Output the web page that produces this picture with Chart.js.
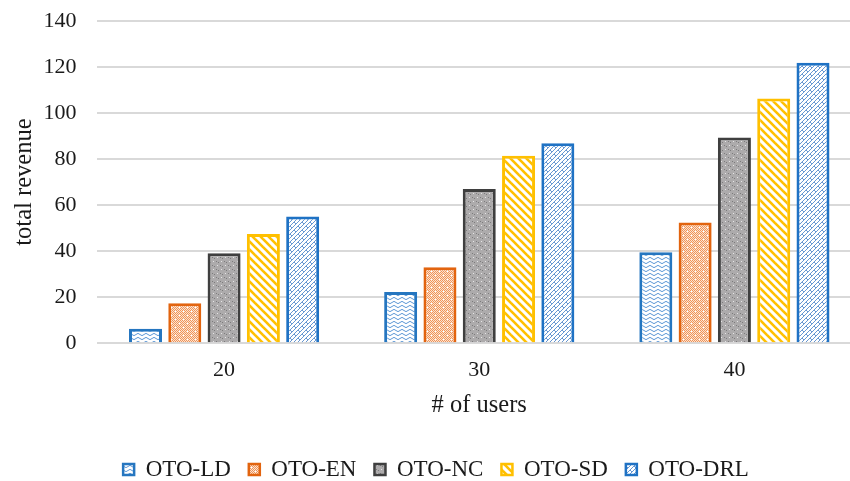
<!DOCTYPE html>
<html>
<head>
<meta charset="utf-8">
<script src="https://cdn.jsdelivr.net/npm/chart.js@4/dist/chart.umd.min.js"></script>
<style>
  html, body { margin: 0; padding: 0; background: #fff; overflow: hidden; }
  #wrap { width: 850px; height: 481px; overflow: hidden; position: relative; }
  canvas { position: absolute; left: 0; top: 0; }
</style>
</head>
<body>
<div id="wrap"><canvas id="chart" width="870" height="481"></canvas></div>
<script>
// Number of users in the system
const categories = ['20', '30', '40'];

// Total revenue per scheme
const seriesNames = ['OTO-LD', 'OTO-EN', 'OTO-NC', 'OTO-SD', 'OTO-DRL'];
const otoLD  = [6.3, 22.3, 39.5];
const otoEN  = [17.4, 33.0, 52.4];
const otoNC  = [39.1, 67.0, 89.4];
const otoSD  = [47.4, 81.4, 106.3];
const otoDRL = [55.1, 86.9, 121.9];

const yTicks = [0, 20, 40, 60, 80, 100, 120, 140];

const SERIF = '"Liberation Serif", "Times New Roman", serif';

// ---- fill patterns -------------------------------------------------------
function makeTile(w, h, draw) {
  const c = document.createElement('canvas');
  c.width = w; c.height = h;
  const g = c.getContext('2d');
  draw(g, w, h);
  return document.getElementById('chart').getContext('2d').createPattern(c, 'repeat');
}

// small blue waves on white
const waves = makeTile(8, 4, (g, w, h) => {
  g.fillStyle = '#ffffff'; g.fillRect(0, 0, w, h);
  g.strokeStyle = '#5d98d6'; g.lineWidth = 1;
  g.beginPath();
  g.moveTo(0, 2.5);
  g.quadraticCurveTo(2, 0.2, 4, 2.5);
  g.quadraticCurveTo(6, 4.8, 8, 2.5);
  g.stroke();
});

// orange fine checker
const checkOrange = makeTile(8, 8, (g, w, h) => {
  g.fillStyle = '#fbe3d2'; g.fillRect(0, 0, w, h);
  g.fillStyle = '#f09458';
  for (let y = 0; y < h; y++)
    for (let x = 0; x < w; x++)
      if ((x + y) % 2 === 0) g.fillRect(x, y, 1, 1);
  g.fillStyle = '#ffffff';
  g.fillRect(3, 3, 1, 1); g.fillRect(7, 7, 1, 1);
});

// gray dotted texture
const dotsGray = makeTile(8, 8, (g, w, h) => {
  g.fillStyle = '#adabac'; g.fillRect(0, 0, w, h);
  g.fillStyle = '#e6e6e6';
  g.fillRect(1, 1, 1, 1); g.fillRect(5, 5, 1, 1);
  g.fillStyle = '#7c7b7c';
  g.fillRect(4, 1, 1, 1); g.fillRect(0, 5, 1, 1);
  g.fillRect(6, 2, 1, 1); g.fillRect(2, 6, 1, 1);
});

// yellow diagonal stripes (down to the right)
const stripesYellow = makeTile(8, 8, (g, w, h) => {
  g.fillStyle = '#ffffff'; g.fillRect(0, 0, w, h);
  g.strokeStyle = '#ffc000'; g.lineWidth = 2.6;
  for (let o = -8; o <= 8; o += 8) {
    g.beginPath(); g.moveTo(o - 1, -1); g.lineTo(o + 9, 9); g.stroke();
  }
});

// blue diagonal brick
const brickBlue = makeTile(8, 8, (g, w, h) => {
  g.fillStyle = '#ffffff'; g.fillRect(0, 0, w, h);
  g.strokeStyle = '#6797d2'; g.lineWidth = 1;
  g.beginPath();
  g.moveTo(-1, 9); g.lineTo(9, -1);
  g.moveTo(-1, 5); g.lineTo(5, -1);
  g.moveTo(3, 9); g.lineTo(9, 3);
  g.moveTo(2, 2); g.lineTo(4, 4);
  g.moveTo(6, 6); g.lineTo(8, 8);
  g.stroke();
});

const fills   = [waves, checkOrange, dotsGray, stripesYellow, brickBlue];
const borders = ['#2576c0', '#e2640f', '#3f3f3f', '#ffc000', '#1f72c4'];
const values  = [otoLD, otoEN, otoNC, otoSD, otoDRL];

const datasets = seriesNames.map((name, i) => ({
  label: name,
  data: values[i],
  backgroundColor: fills[i],
  borderColor: borders[i],
  borderWidth: 3,
  borderSkipped: 'start',
  categoryPercentage: 0.77,
  barPercentage: 0.84
}));

// nudge the legend row a few pixels lower than the default bottom stacking
const legendNudge = {
  id: 'legendNudge',
  afterLayout(chart) {
    const lg = chart.legend;
    if (lg) { lg.top += 10; lg.bottom += 10; }
  }
};

new Chart(document.getElementById('chart'), {
  type: 'bar',
  data: { labels: categories, datasets },
  plugins: [legendNudge],
  options: {
    responsive: false,
    animation: false,
    layout: { padding: { left: 10, right: 8, top: 0, bottom: 0 } },
    plugins: {
      tooltip: { enabled: false },
      legend: {
        position: 'bottom',
        labels: {
          font: { family: SERIF, size: 23 },
          color: '#1a1a1a',
          boxWidth: 11,
          boxHeight: 11,
          padding: 18,
          generateLabels(chart) {
            return chart.data.datasets.map((ds, i) => ({
              text: ds.label,
              fillStyle: ds.backgroundColor,
              strokeStyle: ds.borderColor,
              lineWidth: 2.5,
              fontColor: '#1a1a1a',
              hidden: false,
              datasetIndex: i
            }));
          }
        }
      }
    },
    scales: {
      x: {
        grid: { display: false },
        border: { display: false },
        ticks: { font: { family: SERIF, size: 22 }, color: '#1a1a1a', padding: 6 },
        title: {
          display: true, text: '# of users',
          font: { family: SERIF, size: 24.5 }, color: '#1a1a1a',
          padding: { top: 1, bottom: 10 }
        }
      },
      y: {
        min: 0, max: 140,
        afterBuildTicks(scale) { scale.ticks = yTicks.map(v => ({ value: v })); },
        afterFit(scale) { scale.width = 86.5; scale.paddingTop = 21; },
        grid: { color: '#d9d9d9', lineWidth: 2, drawTicks: false },
        border: { display: false },
        ticks: { font: { family: SERIF, size: 22 }, color: '#1a1a1a', padding: 20 },
        title: {
          display: true, text: 'total revenue',
          font: { family: SERIF, size: 24.5 }, color: '#1a1a1a',
          padding: { top: 0, bottom: 6 }
        }
      }
    }
  }
});
</script>
</body>
</html>
